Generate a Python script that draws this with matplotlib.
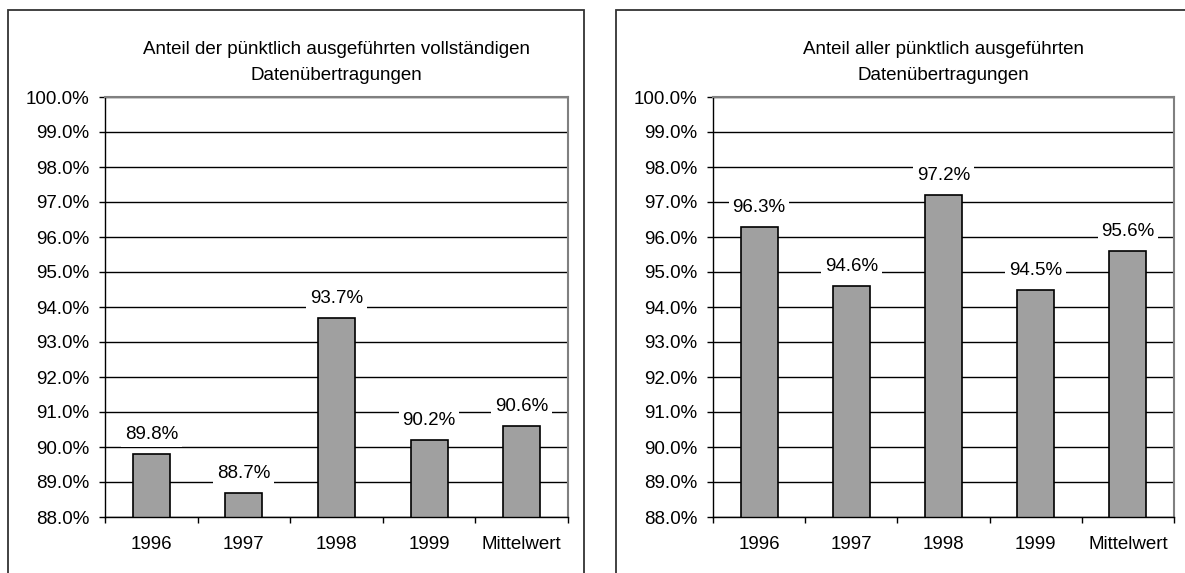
import matplotlib
matplotlib.use("Agg")
import matplotlib.pyplot as plt
from matplotlib.patches import Rectangle
from matplotlib.ticker import FuncFormatter, FixedLocator

plt.rcParams['font.family'] = ['Liberation Sans', 'DejaVu Sans']

categories = ["1996", "1997", "1998", "1999", "Mittelwert"]
complete_on_time = [89.8, 88.7, 93.7, 90.2, 90.6]
all_on_time = [96.3, 94.6, 97.2, 94.5, 95.6]
title_left = ["Anteil der pünktlich ausgeführten vollständigen", "Datenübertragungen"]
title_right = ["Anteil aller pünktlich ausgeführten", "Datenübertragungen"]
y_ticks = [88, 89, 90, 91, 92, 93, 94, 95, 96, 97, 98, 99, 100]

W, H = 1185, 573
FS = 13.5
fig = plt.figure(figsize=(W / 100, H / 100), dpi=100)
fig.patch.set_facecolor("white")


def px_axes(x0, x1, y0, y1):
    return fig.add_axes([x0 / W, 1 - y1 / H, (x1 - x0) / W, (y1 - y0) / H])


def draw_panel(ax, values, title_lines, x0, x1):
    xs = list(range(len(categories)))
    ax.bar(xs, values, width=0.4, color="#A0A0A0", edgecolor="black",
           linewidth=1.2, zorder=2)
    ax.set_xlim(-0.5, len(categories) - 0.5)
    ax.set_ylim(88, 100)
    ax.set_yticks(y_ticks)
    ax.yaxis.set_major_formatter(FuncFormatter(lambda v, p: f"{v:.1f}%"))
    ax.yaxis.grid(True, color="black", linewidth=1.0)
    ax.set_axisbelow(True)

    ax.set_xticks(xs)
    ax.set_xticklabels(categories)
    ax.xaxis.set_minor_locator(FixedLocator([i - 0.5 for i in range(len(categories) + 1)]))
    ax.tick_params(axis="x", which="major", length=0, pad=14, labelsize=FS)
    ax.tick_params(axis="x", which="minor", length=4.5, width=1.0, direction="out")
    ax.tick_params(axis="y", which="major", length=4.5, width=1.0, pad=7,
                   labelsize=FS, direction="out")

    for side in ("top", "right"):
        ax.spines[side].set_color("#808080")
        ax.spines[side].set_linewidth(1.5)
    for side in ("left", "bottom"):
        ax.spines[side].set_color("black")
        ax.spines[side].set_linewidth(1.0)

    for x, v in zip(xs, values):
        ax.annotate(f"{v:.1f}%", (x, v), xytext=(0, 14), textcoords="offset points",
                    ha="center", va="center", fontsize=FS, zorder=3,
                    bbox=dict(boxstyle="square,pad=0.2", fc="white", ec="none"))

    cx = (x0 + x1) / 2 / W
    fig.text(cx, 1 - 50 / H, title_lines[0], ha="center", va="center", fontsize=FS)
    fig.text(cx, 1 - 75 / H, title_lines[1], ha="center", va="center", fontsize=FS)


ax1 = px_axes(105, 568, 97, 517)
draw_panel(ax1, complete_on_time, title_left, 105, 568)
ax2 = px_axes(713, 1174, 97, 517)
draw_panel(ax2, all_on_time, title_right, 713, 1174)

# chart frames around each panel
fig.add_artist(Rectangle((8 / W, -0.1), (584 - 8) / W, 1.1 - 10 / H,
                         transform=fig.transFigure, fill=False,
                         edgecolor="#333333", linewidth=1.3))
fig.add_artist(Rectangle((616 / W, -0.1), 0.5, 1.1 - 10 / H,
                         transform=fig.transFigure, fill=False,
                         edgecolor="#333333", linewidth=1.3))

fig.savefig("out.png", dpi=100)
